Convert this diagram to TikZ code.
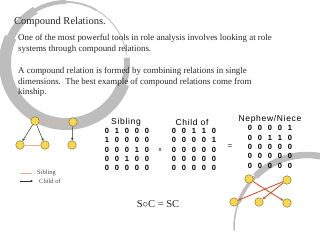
\documentclass[tikz,border=0pt]{standalone}
\usepackage{fontspec}
\setmainfont{Liberation Serif}
\setsansfont{Liberation Sans}
\usetikzlibrary{arrows.meta,matrix}

\definecolor{nodeyellow}{HTML}{F6D84A}
\definecolor{nodeline}{HTML}{8A7A3C}
\definecolor{sibpink}{HTML}{F2B090}
\definecolor{nepred}{HTML}{D2461E}
\definecolor{brushgray}{HTML}{BDBDBD}

\tikzset{
  person/.style={circle,draw=nodeline,fill=nodeyellow,minimum size=8.5pt,inner sep=0pt,line width=0.5pt},
  sibline/.style={draw=sibpink,line width=0.6pt},
  kidarrow/.style={draw=black!80,-{Stealth[length=2.8pt,width=2.4pt]},line width=0.5pt},
  neparrow/.style={draw=nepred,-{Stealth[length=3.2pt,width=2.8pt]},line width=0.8pt},
  relmat/.style={matrix of nodes,column sep=0pt,row sep=0pt,
    nodes={inner sep=0pt,minimum width=10pt,minimum height=9.3pt,font=\sffamily\bfseries\fontsize{7.5}{8}\selectfont}},
  relhead/.style={font=\sffamily\fontsize{8.5}{9}\selectfont\addfontfeature{LetterSpace=8}},
  brush/.style={draw=brushgray}
}

\begin{document}
\begin{tikzpicture}[x=1pt,y=-1pt,>=Stealth]
  \useasboundingbox (0,0) rectangle (320,240);
  % brush rings in the background
  \draw[brush,line width=6pt] (66,63) ++(-5:61) arc[start angle=-5,end angle=20,radius=61];
  \draw[brush,line width=12pt] (66,63) ++(20:61) arc[start angle=20,end angle=205,radius=61];
  \draw[brush,line width=8pt] (66,63) ++(205:61) arc[start angle=205,end angle=240,radius=61];
  \draw[brush,line width=4pt] (66,63) ++(240:61) arc[start angle=240,end angle=270,radius=61];
  \draw[brush,line width=1.8pt] (66,63) ++(270:61) arc[start angle=270,end angle=300,radius=61];
  \draw[brush,line width=0.8pt] (66,63) ++(300:61) arc[start angle=300,end angle=352,radius=61];
  \draw[brush,line width=1.5pt] (307,228) ++(178:73) arc[start angle=178,end angle=200,radius=73];
  \draw[brush,line width=3.5pt] (307,228) ++(200:73) arc[start angle=200,end angle=225,radius=73];
  \draw[brush,line width=6.5pt] (307,228) ++(225:73) arc[start angle=225,end angle=290,radius=73];

  % text
  \node[anchor=base west,inner sep=0pt,font=\fontsize{10.5}{12}\selectfont,text=black!85] (title) at (14,25) {Compound Relations.};
  \node[anchor=north west,align=left,inner sep=0pt,font=\fontsize{8.9}{10.2}\selectfont,text=black!85] (intro) at (18,34.5)
    {One of the most powerful tools in role analysis involves looking at role\\systems through compound relations.};
  \node[anchor=north west,align=left,inner sep=0pt,font=\fontsize{8.9}{10.2}\selectfont,text=black!85] (kinpara) at (18,67.5)
    {A compound relation is formed by combining relations in single\\dimensions.\ \ The best example of compound relations come from\\kinship.};

  % kinship graph
  \node[person] (a) at (35,121) {};
  \node[person] (b) at (73,122) {};
  \node[person] (c) at (20,145) {};
  \node[person] (d) at (45,145) {};
  \node[person] (e) at (72,145) {};
  \draw[sibline] (a) -- (b);
  \draw[sibline] (c) -- (d);
  \draw[kidarrow] (a) -- (c);
  \draw[kidarrow] (a) -- (d);
  \draw[kidarrow] (b) -- (e);

  % legend
  \coordinate (ls1) at (20,173);
  \coordinate (ls2) at (32,173);
  \coordinate (lk1) at (20,181);
  \coordinate (lk2) at (33,181);
  \draw[sibline] (ls1) -- (ls2);
  \draw[kidarrow] (lk1) -- (lk2);
  \node[anchor=west,inner sep=0pt,font=\fontsize{6.5}{7}\selectfont,text=black!70] (lsib) at (37,173) {Sibling};
  \node[anchor=west,inner sep=0pt,font=\fontsize{6.5}{7}\selectfont,text=black!70] (lkid) at (39,181) {Child of};

  % matrices
  \node[relhead] (hsib) at (126,122) {Sibling};
  \node[relhead] (hkid) at (192,122) {Child of};
  \node[relhead] (hnep) at (270,119) {Nephew/Niece};
  \matrix (msib) [relmat] at (127,149.5) {
    0 & 1 & 0 & 0 & 0 \\
    1 & 0 & 0 & 0 & 0 \\
    0 & 0 & 0 & 1 & 0 \\
    0 & 0 & 1 & 0 & 0 \\
    0 & 0 & 0 & 0 & 0 \\
  };
  \matrix (mkid) [relmat] at (194,149.5) {
    0 & 0 & 1 & 1 & 0 \\
    0 & 0 & 0 & 0 & 1 \\
    0 & 0 & 0 & 0 & 0 \\
    0 & 0 & 0 & 0 & 0 \\
    0 & 0 & 0 & 0 & 0 \\
  };
  \matrix (mnep) [relmat] at (270,147) {
    0 & 0 & 0 & 0 & 1 \\
    0 & 0 & 1 & 1 & 0 \\
    0 & 0 & 0 & 0 & 0 \\
    0 & 0 & 0 & 0 & 0 \\
    0 & 0 & 0 & 0 & 0 \\
  };
  \node[font=\sffamily\fontsize{6}{7}\selectfont] (times) at (160,150) {x};
  \node[font=\sffamily\fontsize{7.5}{8}\selectfont] (equals) at (230,147) {=};
  \node[font=\fontsize{10.5}{12}\selectfont,text=black!85] (law) at (158,204) {S$\circ$C = SC};

  % nephew/niece graph
  \node[person] (f) at (249,179) {};
  \node[person] (g) at (287,180) {};
  \node[person] (h) at (234,202) {};
  \node[person] (i) at (259,202) {};
  \node[person] (j) at (287,203) {};
  \draw[neparrow] (f) -- (j);
  \draw[neparrow] (g) -- (h);
  \draw[neparrow] (g) -- (i);
\end{tikzpicture}
\end{document}
